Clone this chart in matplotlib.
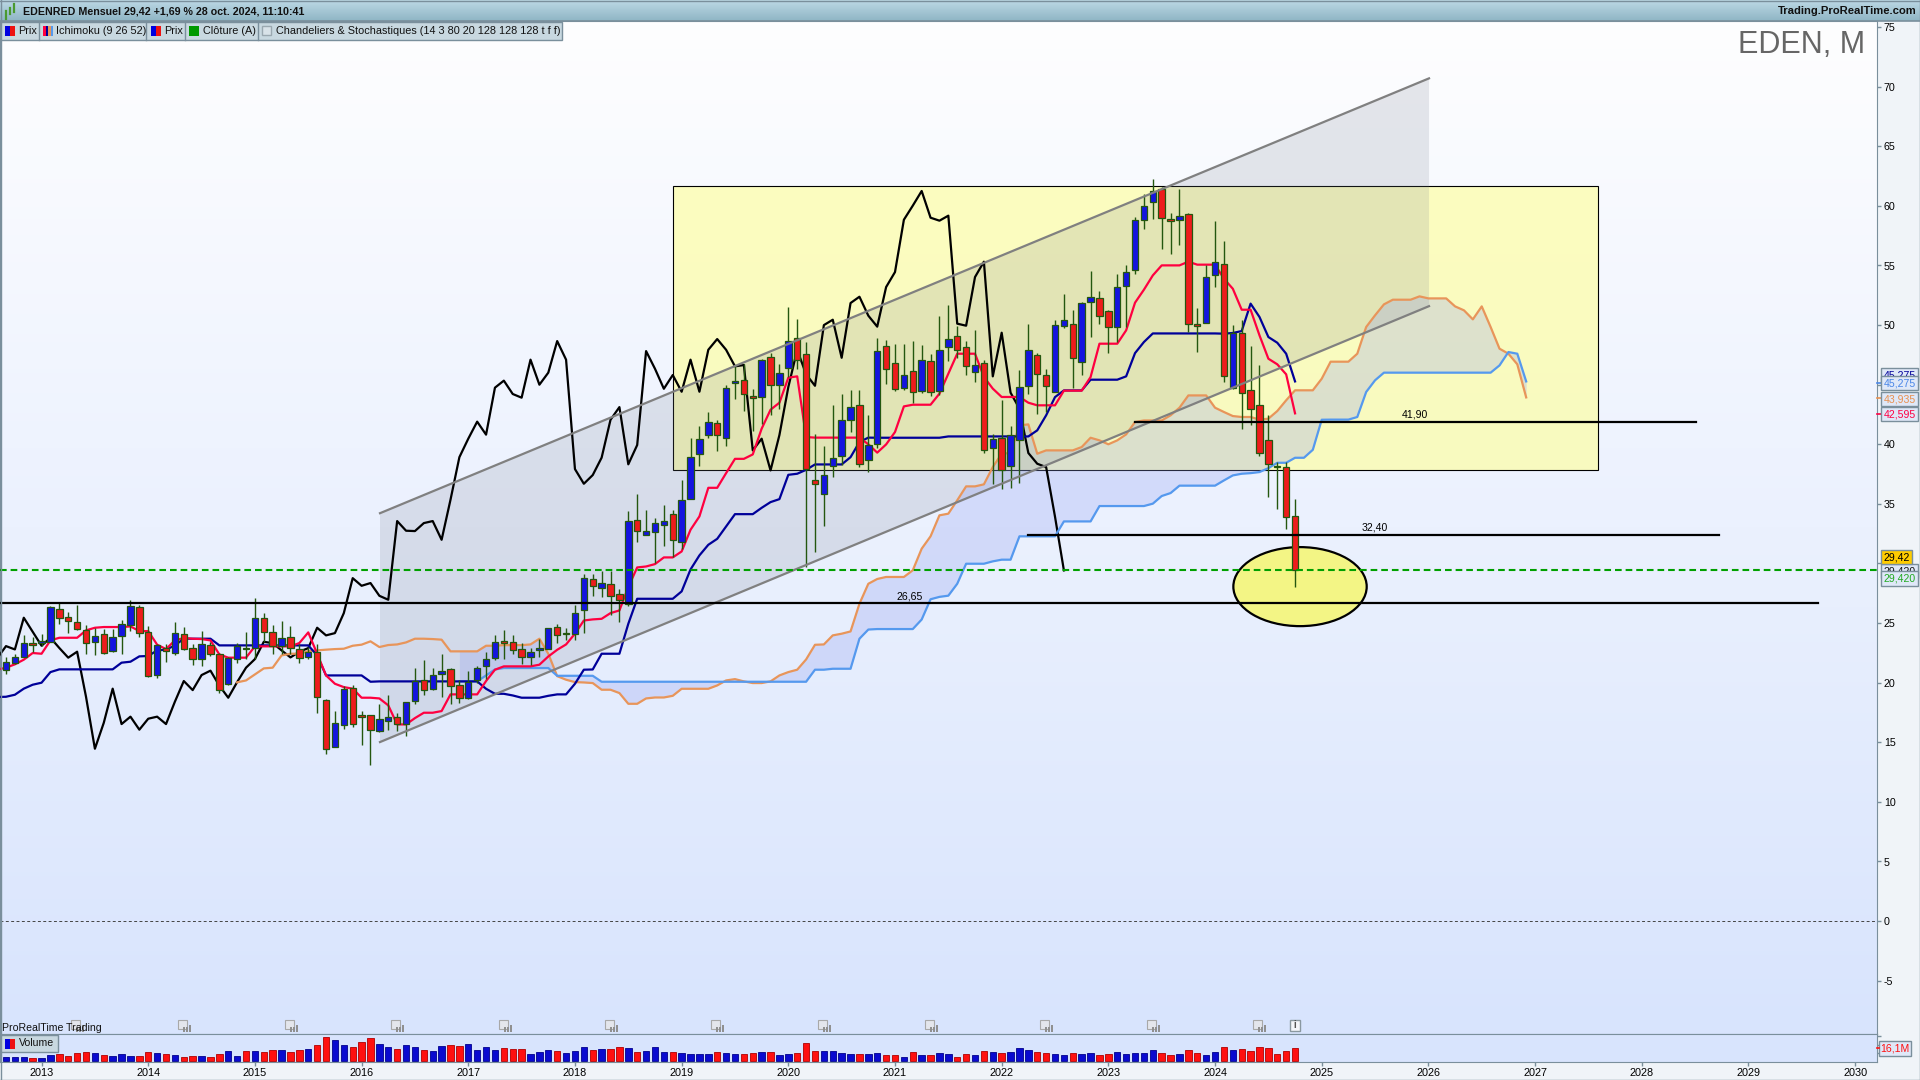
import matplotlib
matplotlib.use('Agg')
import matplotlib.pyplot as plt
from matplotlib.patches import Ellipse, Polygon, Rectangle
import numpy as np

plt.rcParams['font.family'] = ['Liberation Sans', 'DejaVu Sans']

# monthly candles, index 0 = sep 2012
opens = [21.09,21.65,22.15,23.35,23.35,23.41,26.18,25.53,25.12,24.42,
         23.41,24.11,22.65,23.94,24.86,26.35,24.28,20.64,22.93,22.52,
         24.11,22.91,22.01,23.19,22.43,19.91,22.01,22.91,22.88,25.45,
         24.28,23.10,23.83,22.82,22.18,22.60,18.57,14.63,16.48,19.58,
         17.26,17.31,15.94,16.81,17.15,16.53,18.49,20.25,19.50,20.75,
         21.17,19.80,18.74,20.19,21.37,22.09,23.46,23.41,22.82,22.18,
         22.71,22.85,24.66,24.05,24.05,26.12,28.69,27.96,28.27,27.46,
         26.62,33.67,32.41,32.66,33.25,34.14,31.82,35.43,39.21,40.81,
         41.81,40.56,45.17,45.42,44.08,44.00,47.32,45.00,46.43,48.92,
         47.60,37.03,35.86,38.20,38.99,42.06,43.29,38.65,40.05,48.24,
         46.82,44.75,46.14,44.50,46.98,44.50,48.19,49.08,48.16,46.06,
         46.82,39.71,40.55,38.15,40.39,44.91,47.49,45.81,44.41,49.95,
         50.12,46.93,51.96,52.30,51.18,49.87,53.28,54.65,58.81,60.32,
         61.44,58.93,58.84,59.35,50.12,50.17,54.23,55.12,44.75,49.34,
         44.58,43.30,40.38,38.14,38.12,34.00]
highs = [22.15,22.43,23.97,23.83,24.05,26.40,26.79,25.90,26.49,24.86,
         24.58,24.53,24.53,25.23,26.96,26.49,24.72,23.27,23.27,25.06,
         24.67,23.27,24.30,23.41,22.49,22.15,23.35,24.25,27.07,25.84,
         24.81,25.14,24.72,23.27,22.99,23.27,18.66,17.59,19.69,19.77,
         17.59,17.31,18.24,18.94,17.45,18.41,21.26,21.87,21.23,22.37,
         21.26,20.19,20.95,21.42,22.57,24.02,24.39,23.97,23.35,22.93,
         23.69,24.61,24.89,24.61,26.48,29.08,29.08,29.36,29.36,27.88,
         34.39,35.85,34.51,33.84,34.87,34.45,36.97,40.56,41.56,42.74,
         42.07,44.95,46.62,46.71,44.67,47.18,47.66,46.76,51.52,50.54,
         48.58,40.89,39.83,43.32,44.24,44.52,44.52,42.48,48.94,48.72,
         48.44,48.44,48.63,48.35,47.60,50.73,51.65,49.90,48.63,49.56,
         47.04,40.89,43.74,41.50,46.20,50.12,47.68,46.34,50.45,52.63,
         51.29,51.93,54.51,52.83,51.29,54.26,55.01,59.07,60.97,62.28,
         61.58,59.43,61.39,59.43,51.46,55.01,58.70,57.02,49.98,50.45,
         48.22,46.62,42.48,38.48,38.48,35.38]
lows = [20.70,21.59,22.15,22.57,23.05,23.41,24.89,24.16,24.39,22.37,
        22.29,22.37,22.57,22.37,24.33,23.83,20.47,20.36,21.73,22.35,
        22.77,21.45,21.37,22.21,19.13,19.77,21.65,22.01,22.01,23.44,
        22.43,22.37,22.43,21.65,21.98,17.45,14.04,14.60,16.14,16.28,
        14.74,13.09,15.86,16.06,15.94,15.55,18.24,18.99,19.41,18.80,
        18.24,18.29,18.66,19.97,20.33,21.87,22.01,22.43,21.53,21.45,
        22.15,22.82,23.32,23.55,23.55,24.16,27.24,27.18,25.64,25.08,
        26.40,31.79,32.35,30.03,31.43,30.54,31.24,35.40,38.15,40.53,
        39.44,39.83,43.77,42.79,41.09,41.73,42.43,43.00,45.64,46.34,
        29.70,30.96,33.12,37.25,38.23,41.03,38.09,37.67,39.69,45.03,
        44.47,44.52,43.46,44.30,44.05,44.10,46.96,47.26,45.78,45.22,
        39.27,36.69,36.28,36.36,36.78,44.24,42.57,42.71,44.38,49.78,
        44.72,45.78,49.00,50.06,47.66,48.58,49.84,54.31,58.03,58.93,
        56.38,55.99,56.69,49.42,47.74,50.17,53.19,45.23,44.61,41.31,
        41.59,38.99,35.57,34.59,32.89,28.02]
closes = [21.76,22.15,23.33,23.16,23.52,26.35,25.45,25.20,24.50,23.35,
          23.94,22.52,23.86,24.95,26.46,24.19,20.56,23.16,22.68,24.19,
          22.85,22.01,23.27,22.43,19.41,22.04,23.07,22.79,25.45,24.28,
          23.10,23.77,22.91,22.10,22.60,18.82,14.46,16.64,19.50,16.53,
          17.15,16.06,16.98,17.15,16.53,18.41,20.14,19.38,20.64,21.01,
          19.75,18.74,20.05,21.26,21.98,23.43,23.32,22.71,22.12,22.60,
          22.90,24.61,23.97,24.16,25.84,28.77,28.13,28.36,27.29,26.96,
          33.56,32.75,32.72,33.39,33.56,31.99,35.35,38.92,40.47,41.90,
          40.81,44.75,45.34,44.22,43.91,47.10,45.00,46.01,48.66,47.10,
          37.92,36.69,37.42,38.88,42.06,43.12,38.32,39.94,47.82,46.34,
          44.66,45.81,44.41,47.10,44.41,47.93,48.83,47.93,46.54,46.65,
          39.49,40.47,37.81,40.78,44.80,47.93,45.87,44.91,50.00,50.45,
          47.26,51.85,52.38,50.79,49.87,53.19,54.45,58.84,60.02,61.25,
          59.01,58.76,59.18,50.12,49.95,54.03,55.32,45.70,49.36,44.33,
          42.99,39.27,38.37,38.09,33.92,29.42]
volumes = [4.8,5.6,5.6,4.4,4.4,7.2,8.5,6.0,9.7,10.9,
           10.5,7.2,6.0,8.5,6.0,6.0,10.9,9.7,9.3,7.2,
           4.8,6.0,6.0,4.8,8.5,12.1,6.0,12.1,12.1,10.9,
           13.3,13.3,10.9,13.3,14.5,19.3,29.0,25.4,19.3,16.9,
           22.9,27.8,20.5,16.9,14.5,19.3,16.9,13.3,12.1,18.1,
           19.3,18.1,20.5,13.3,16.9,13.3,15.7,14.5,14.5,8.5,
           10.9,13.3,12.1,9.7,12.1,16.9,13.3,14.5,14.5,16.9,
           15.7,10.9,12.1,16.9,10.9,10.9,9.7,8.5,8.5,8.5,
           10.9,9.7,8.5,8.5,9.7,10.9,10.9,7.2,8.5,9.7,
           21.7,12.1,12.1,12.1,9.7,8.5,8.5,8.5,9.7,7.2,
           7.2,4.8,10.9,7.2,7.2,9.7,8.5,4.8,8.5,7.2,
           12.1,10.9,9.7,10.9,15.7,13.3,10.9,9.7,8.5,7.2,
           9.7,8.5,9.7,7.2,8.5,10.9,8.5,9.7,9.7,13.3,
           9.7,7.2,8.5,13.3,9.7,7.2,10.9,16.9,13.3,14.5,
           12.1,16.9,15.7,8.5,12.1,16.1]

# ichimoku, first value of tenkan/kijun is month -1
tenkan = [21.09,21.26,21.54,21.93,22.49,22.43,23.55,23.77,23.77,23.77,
          24.39,24.61,24.67,24.67,24.67,24.72,24.33,24.33,23.19,22.82,
          23.55,23.75,23.69,23.66,23.55,22.37,22.10,22.10,22.10,23.05,
          23.05,23.05,23.05,23.05,23.33,24.22,22.43,20.61,19.91,19.63,
          19.50,18.74,18.74,18.68,18.10,16.50,16.50,17.03,17.48,17.48,
          17.62,19.02,19.02,19.02,19.02,20.14,21.09,21.37,21.37,21.37,
          21.37,21.51,22.20,22.76,23.21,24.11,25.22,25.31,25.36,25.84,
          26.06,28.02,29.67,29.75,29.95,30.51,30.51,31.01,32.83,33.95,
          36.35,36.35,37.58,38.78,38.78,39.15,41.31,42.90,43.49,45.59,
          45.70,40.61,40.56,40.56,40.56,40.56,40.56,40.56,40.00,39.30,
          39.99,41.03,43.18,43.32,43.32,43.32,44.25,45.92,47.60,47.60,
          47.60,45.65,44.67,43.97,43.97,43.97,43.49,43.27,43.27,43.27,
          44.50,44.50,44.50,45.64,48.44,48.44,48.44,49.56,51.88,52.97,
          54.17,55.01,55.01,55.01,55.32,55.07,55.07,55.07,53.89,53.05,
          51.29,51.29,49.14,47.18,46.71,45.87,42.595]
kijun = [18.80,18.82,18.99,19.50,19.83,20.00,20.89,21.12,21.12,21.12,
         21.12,21.12,21.12,21.12,21.68,21.76,22.21,22.24,22.71,22.77,
         23.13,23.69,23.69,23.69,23.69,23.13,23.13,23.13,23.13,23.13,
         23.13,23.13,23.13,23.13,23.13,23.13,22.29,20.61,20.61,20.61,
         20.61,20.61,20.08,20.11,20.11,20.11,20.11,20.11,20.11,20.11,
         20.11,20.11,20.11,20.11,20.11,19.49,19.07,19.07,18.93,18.74,
         18.74,18.74,18.90,19.02,19.02,19.91,21.09,21.11,22.43,22.43,
         22.43,24.94,27.04,27.04,27.04,27.04,27.04,27.66,29.50,30.68,
         31.57,32.07,33.11,34.14,34.14,34.14,34.67,35.15,35.40,37.44,
         37.53,37.86,38.31,38.31,38.31,38.31,38.92,40.19,40.56,40.55,
         40.55,40.55,40.55,40.55,40.55,40.55,40.55,40.66,40.66,40.66,
         40.66,40.66,40.66,40.66,40.66,40.66,40.66,41.17,42.43,43.96,
         44.52,44.52,44.52,45.42,45.42,45.42,45.42,45.70,47.65,48.58,
         49.30,49.30,49.30,49.30,49.30,49.30,49.30,49.30,49.28,49.34,
         49.50,51.80,50.68,49.00,48.52,47.60,45.275]
# senkou A starts at month 26, senkou B at month 51, both end at month 171
senkou_a = [20.03,20.19,20.70,21.20,21.26,22.29,22.43,22.43,22.65,22.71,
            22.77,22.82,22.85,23.10,23.19,23.47,22.99,23.16,23.21,23.38,
            23.69,23.69,23.66,23.61,22.63,22.63,22.63,22.63,23.10,23.10,
            23.15,23.15,23.15,23.21,23.69,22.43,20.55,20.25,20.05,20.02,
            19.97,19.41,19.41,19.13,18.23,18.23,18.68,18.76,18.76,18.90,
            19.49,19.49,19.49,19.49,19.77,20.19,20.30,20.11,19.97,19.97,
            20.11,20.61,20.89,21.09,21.95,23.18,23.21,23.97,24.11,24.30,
            26.62,28.30,28.70,28.87,28.87,28.87,29.43,31.24,32.28,34.04,
            34.18,35.30,36.47,36.47,36.64,38.09,39.21,39.27,41.59,41.67,
            39.21,39.49,39.49,39.49,39.49,39.77,40.55,40.33,40.00,40.33,
            40.83,41.87,42.00,42.00,42.00,42.43,43.07,44.10,44.10,44.10,
            43.07,42.71,42.37,42.29,42.29,42.07,42.15,42.79,43.69,44.53,
            44.53,44.53,45.50,46.93,46.93,46.93,47.60,49.84,50.82,51.74,
            52.13,52.13,52.13,52.41,52.24,52.24,52.24,51.57,51.24,50.48,
            51.57,49.84,48.02,47.60,46.71,43.935]
senkou_b = [20.11,20.11,20.11,20.61,21.11,21.23,21.23,21.23,21.23,21.23,
            21.23,20.58,20.58,20.58,20.58,20.58,20.08,20.08,20.08,20.08,
            20.08,20.08,20.08,20.08,20.08,20.08,20.08,20.08,20.08,20.08,
            20.08,20.08,20.08,20.08,20.08,20.08,20.08,20.08,20.08,20.08,
            21.09,21.09,21.17,21.17,21.17,23.69,24.46,24.50,24.50,24.50,
            24.50,24.50,25.30,27.00,27.20,27.30,28.30,29.98,29.98,29.98,
            30.18,30.32,30.32,32.28,32.28,32.28,32.28,32.28,33.53,33.53,
            33.53,33.53,34.82,34.82,34.82,34.82,34.82,34.82,35.02,35.66,
            35.91,36.53,36.53,36.53,36.53,36.53,36.97,37.39,37.53,37.58,
            37.67,38.00,38.45,38.45,38.87,38.87,39.54,42.06,42.07,42.07,
            42.07,42.29,44.39,45.37,46.01,46.01,46.01,46.01,46.01,46.01,
            46.01,46.01,46.01,46.01,46.01,46.01,46.01,46.62,47.74,47.60,
            45.275]

year_labels = list(range(2013, 2031))
price_ticks = list(range(-5, 80, 5))

# drawn objects on the chart, in (month, price)
channel_upper = [(42.07, 34.22), (160.07, 70.70)]
channel_lower = [(42.07, 15.02), (160.07, 51.59)]
zone_months = (75.06, 179.04)
zone_prices = (37.87, 61.70)
levels = [(41.90, 127.0, 190.1, '41,90', 158.5),
          (32.40, 115.0, 192.7, '32,40', 154.0),
          (26.65, -1.0, 203.8, '26,65', 101.7)]
last_close = 29.42

# pixel layout
W, H = 1920, 1080
X0, DX = 6.0, 8.89
TOP, MID, BOT, RIGHT = 21.0, 1034.0, 1062.0, 1877.0
Y0, DY = 921.1, 11.92
XLIM = (-X0 / DX, (RIGHT - X0) / DX)

BORDER = '#7a8f9c'
BLUE, RED, WICK = '#1414e0', '#ee1c1c', '#24570f'

opens, highs, lows, closes = map(np.array, (opens, highs, lows, closes))
months = np.arange(len(closes))
up = closes >= opens


def axes_px(x0, y0, x1, y1):
    return fig.add_axes([x0 / W, 1 - y1 / H, (x1 - x0) / W, (y1 - y0) / H])


fig = plt.figure(figsize=(W / 100, H / 100), dpi=100, facecolor='#f0f4f8')
ax = axes_px(0, TOP, RIGHT, MID)
ax_vol = axes_px(0, MID, RIGHT, BOT)

ax.set_xlim(*XLIM)
ax.set_ylim((Y0 - MID) / DY, (Y0 - TOP) / DY)

# background gradient
grad = np.array([[254, 254, 255], [216, 228, 253]]) / 255
ax.imshow(np.linspace(grad[0], grad[1], 256)[:, None, :], aspect='auto', zorder=0,
          extent=(*XLIM, (Y0 - MID) / DY, (Y0 - TOP) / DY))

# yellow zone
ax.add_patch(Rectangle((zone_months[0], zone_prices[0]), zone_months[1] - zone_months[0],
                       zone_prices[1] - zone_prices[0], facecolor=(1, 1, 0.6, 0.62),
                       edgecolor='black', lw=0.8, zorder=1))
# channel
ax.add_patch(Polygon(channel_lower + channel_upper[::-1], closed=True, facecolor='#707888',
                     alpha=0.17, edgecolor='none', zorder=1.5))

# cloud
a = np.array(senkou_a)
b = np.array(senkou_b)
a_x = np.arange(26, 26 + len(a))
b_x = np.arange(51, 51 + len(b))
ax.fill_between(b_x, a[25:], b, color='#8f9cf0', alpha=0.27, lw=0, zorder=2)

# lines
line_x = np.arange(-1, len(tenkan) - 1)
ax.plot(months - 26, closes, color='black', lw=1.6, zorder=3)
ax.plot(a_x, a, color='#e8955a', lw=1.6, zorder=3)
ax.plot(b_x, b, color='#5599ee', lw=1.6, zorder=3)
ax.plot(line_x, kijun, color='#000099', lw=1.6, zorder=3.1)
ax.plot(line_x, tenkan, color='#ff0040', lw=1.6, zorder=3.2)

# target ellipse
ax.add_patch(Ellipse((145.56, 28.06), 15.0, 6.63, facecolor='#f3f585', edgecolor='black', lw=1.6, zorder=3.5))

# candles
ax.vlines(months, lows, highs, color=WICK, lw=1.0, zorder=4)
ax.bar(months, np.abs(closes - opens), bottom=np.minimum(opens, closes), width=0.72,
       color=[BLUE if u else RED for u in up], edgecolor=WICK, lw=0.9, zorder=4.2)

# channel outlines above the candles
for seg in (channel_upper, channel_lower):
    ax.plot(*zip(*seg), color='#808080', lw=1.6, zorder=5)

# levels
for price, x_start, x_end, label, x_label in levels:
    ax.plot([x_start, x_end], [price, price], color='black', lw=1.6, zorder=5.5)
    ax.text(x_label, price + 0.2, label, fontsize=7.6, ha='center', va='bottom', zorder=6)
ax.axhline(last_close, color='#00a000', lw=1.5, ls=(0, (3.2, 1.9)), zorder=6)
ax.axhline(0, color='#444444', lw=0.7, ls=(0, (3, 2.5)), zorder=1)

ax.yaxis.tick_right()
ax.set_yticks(price_ticks)
ax.set_yticklabels([str(p) for p in price_ticks], fontsize=7.7)
ax.tick_params(axis='y', length=3, width=1, color=BORDER, pad=2)
ax.set_xticks([])
for s in ax.spines.values():
    s.set_color(BORDER)

# volume panel
ax_vol.set_facecolor('#d8e4fd')
ax_vol.set_xlim(*XLIM)
ax_vol.set_ylim(-0.8, 32.6)
ax_vol.bar(months, volumes, width=0.72, color=['#0a0ad0' if u else '#ff1010' for u in up],
           edgecolor=['#00008c' if u else '#b00000' for u in up], lw=0.6)
ax_vol.set_xticks(np.arange(len(year_labels)) * 12 + 4)
ax_vol.set_xticklabels([str(y) for y in year_labels], fontsize=7.8)
ax_vol.tick_params(axis='x', length=3, width=1, color=BORDER, pad=1)
ax_vol.yaxis.tick_right()
ax_vol.set_yticks([10, 20, 30])
ax_vol.set_yticklabels(['10M', '20M', ''], fontsize=7.7)
ax_vol.tick_params(axis='y', length=3, width=1, color=BORDER, pad=2)
for s in ax_vol.spines.values():
    s.set_color(BORDER)

# overlay in pixels: header, legends, value boxes
ui = fig.add_axes([0, 0, 1, 1], zorder=10)
ui.set_xlim(0, W)
ui.set_ylim(H, 0)
ui.axis('off')
ui.patch.set_alpha(0)

header = np.linspace([0.74, 0.85, 0.90], [0.56, 0.71, 0.77], 64)[:, None, :]
ui.imshow(header, aspect='auto', extent=(0, W, 21, 0), zorder=0)
ui.set_xlim(0, W)
ui.set_ylim(H, 0)
ui.plot([0, W], [21, 21], color=BORDER, lw=1.2)
ui.plot([0, W], [0.5, 0.5], color=BORDER, lw=1.0)
ui.plot([0.5, 0.5], [0, H], color=BORDER, lw=1.0)
ui.plot([0, W], [H - 0.5, H - 0.5], color=BORDER, lw=1.0)
ui.plot([W - 0.5, W - 0.5], [0, H], color=BORDER, lw=1.0)
ui.text(23, 11.5, 'EDENRED Mensuel 29,42 +1,69 % 28 oct. 2024, 11:10:41', fontsize=7.7,
        fontweight='bold', va='center', color='#111111')
ui.text(1917, 11.5, 'Trading.ProRealTime.com', fontsize=8.1, fontweight='bold', va='center', ha='right', color='#111111')
# header icon
for x, y0, y1 in [(6, 11, 19), (10, 8, 14), (14, 4, 12)]:
    ui.plot([x, x], [y0, y1], color='#4a9a30', lw=1.6)

# legend bar
LEG = '#c8d8e0'
ui.add_patch(Rectangle((0, 21.5), 562, 18, facecolor=LEG, edgecolor=BORDER, lw=1))
for x in (38.8, 146, 184.5, 257.5):
    ui.plot([x, x], [21.5, 39.5], color=BORDER, lw=1)


def swatch(x, y, colors, h=10, w=10):
    step = w / len(colors)
    for k, c in enumerate(colors):
        ui.add_patch(Rectangle((x + k * step, y), step, h, facecolor=c, edgecolor='none'))


swatch(5, 25.5, ['#0000e0', '#ee1111'])
swatch(43, 25.5, ['#ff0040', '#000099', '#e8955a', '#5599ee'])
swatch(151, 25.5, ['#0000e0', '#ee1111'])
swatch(189, 25.5, ['#009900'])
ui.add_patch(Rectangle((262, 26), 9, 9, facecolor='#d8e2e8', edgecolor='#9aa8b0', lw=1))
for x, txt in [(18.5, 'Prix'), (56, 'Ichimoku (9 26 52)'), (164.5, 'Prix'), (203, 'Clôture (A)'),
               (275.5, 'Chandeliers & Stochastiques (14 3 80 20 128 128 128 t f f)')]:
    ui.text(x, 30.5, txt, fontsize=7.8, va='center', color='#111111')

ui.text(1865, 53, 'EDEN, M', fontsize=22, ha='right', va='baseline', color='#666666')
ui.text(2, 1028, 'ProRealTime Trading', fontsize=7.6, va='center', color='#111111')

# calendar markers
for x in (77, 184, 291, 397, 504.5, 611, 717, 824, 931, 1046, 1153, 1259):
    ui.add_patch(Rectangle((x - 6, 1020), 9, 9, facecolor='#e4e6ec', edgecolor='#a8a8a8', lw=0.8))
    for dx, hgt in [(-1, 5), (2, 5), (5, 7)]:
        ui.add_patch(Rectangle((x + dx, 1032 - hgt), 2.2, hgt, facecolor='#909090', edgecolor='none'))
ui.add_patch(Rectangle((1289.5, 1020), 10.5, 11, facecolor='#f4f6fa', edgecolor='#8a98a0', lw=1))
ui.text(1294.8, 1025.5, 'i', fontsize=7, fontweight='bold', ha='center', va='center', color='#555555')

# volume legend
ui.add_patch(Rectangle((0, 1035), 58, 17, facecolor=LEG, edgecolor=BORDER, lw=1))
swatch(4.5, 1039, ['#0000e0', '#ee1111'])
ui.text(19, 1043.5, 'Volume', fontsize=7.6, va='center', color='#111111')

box_z = [20]


def value_box(y0, y1, txt, color, x1=1917.7, face='#dfe8f8', tick=None):
    # later boxes cover the earlier ones, text included
    box_z[0] += 1
    ui.add_patch(Rectangle((1881.3, y0), x1 - 1881.3, y1 - y0, facecolor=face, edgecolor=BORDER, lw=1, zorder=box_z[0]))
    ui.text(1884, (y0 + y1) / 2 + 0.3, txt, fontsize=7.6, va='center', color=color, zorder=box_z[0])
    if tick:
        ui.plot([1877, 1881], [tick, tick], color=color, lw=1.2)


value_box(368.3, 382, '45,275', '#000099')
value_box(376, 390, '45,275', '#4a86e8', tick=383)
value_box(391.7, 405.7, '43,935', '#e8904f', tick=398)
value_box(407.3, 421.3, '42,595', '#ff0044', tick=414)
value_box(564.3, 578, '29,420', '#111111')
value_box(571.3, 585.7, '29,420', '#22aa22')
value_box(550.3, 564, '29,42', 'black', x1=1911.7, face='#ffcc00')
ui.add_patch(Rectangle((1879, 1041), 32, 14.7, facecolor='#dfe8f8', edgecolor=BORDER, lw=1))
ui.text(1895, 1048.5, '16,1M', fontsize=7.6, ha='center', va='center', color='#ff1010')
ui.plot([1877, 1879], [1047.7, 1047.7], color='#ff1010', lw=1.2)

fig.savefig('out.png', dpi=100, facecolor=fig.get_facecolor())
